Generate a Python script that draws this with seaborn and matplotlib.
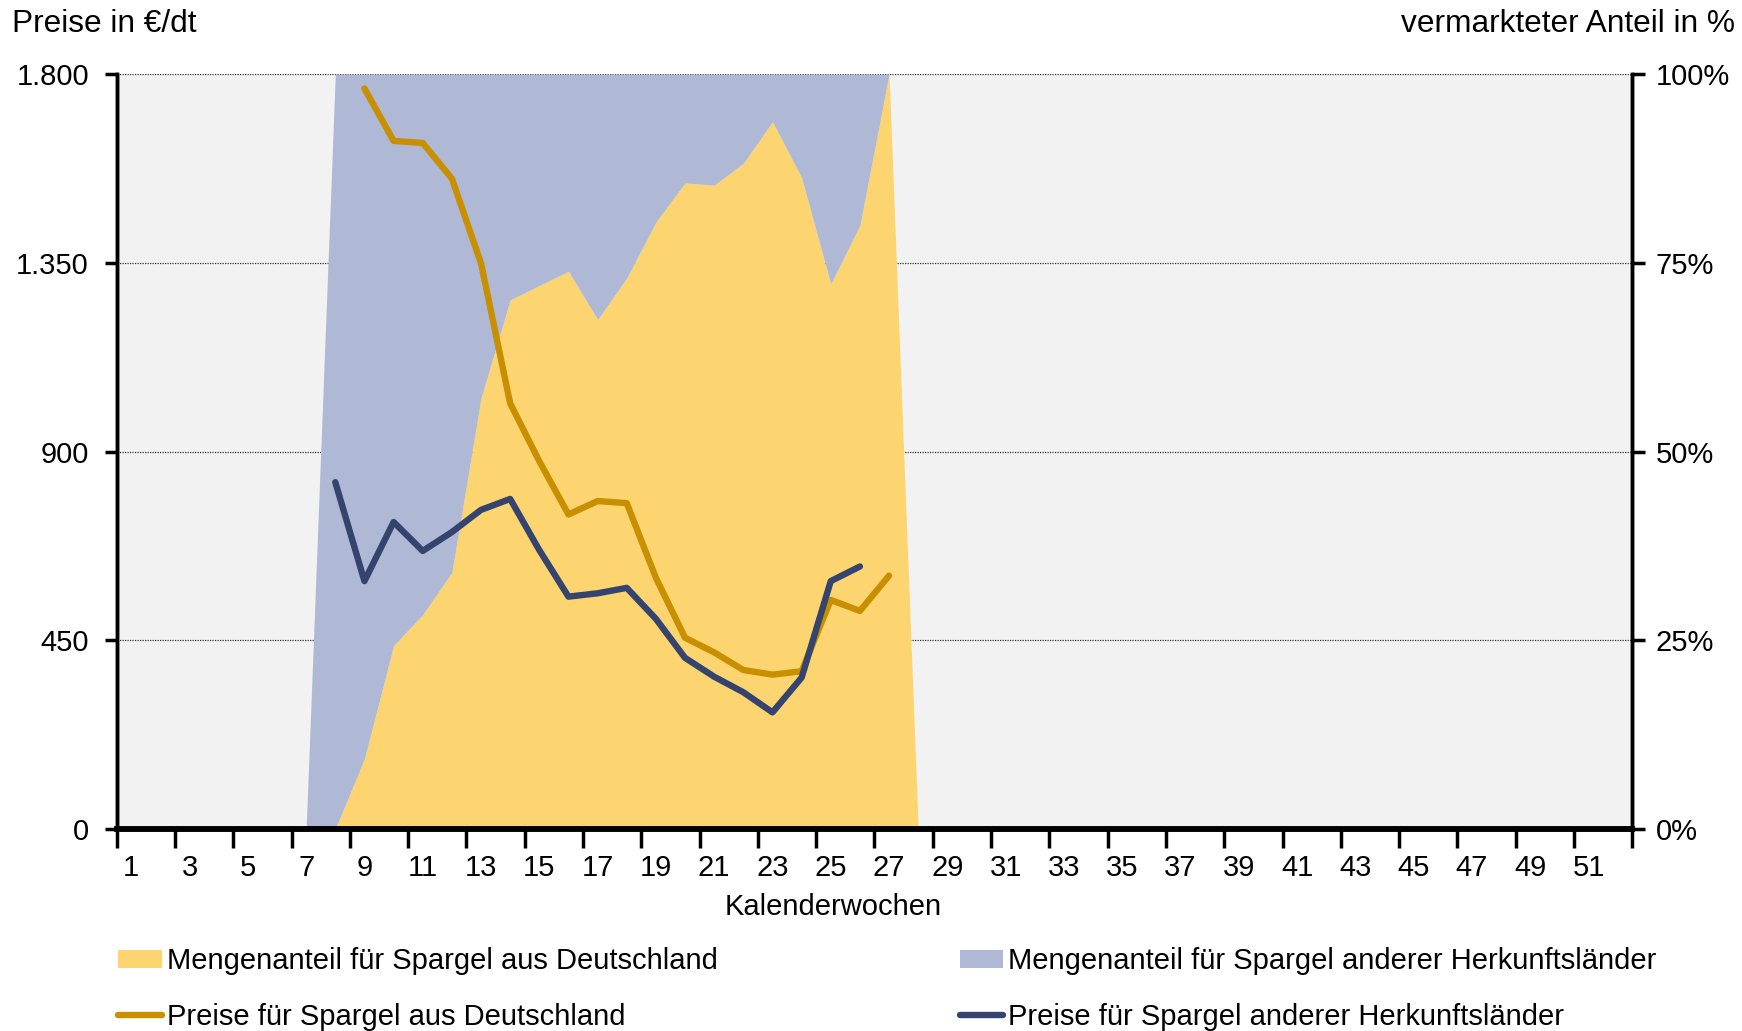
import numpy as np
import pandas as pd
import matplotlib.pyplot as plt
import seaborn as sns
from matplotlib.ticker import FuncFormatter, FixedLocator

sns.set_theme(style="white")
plt.rcParams["font.family"] = ["Liberation Sans", "DejaVu Sans"]
plt.rcParams["text.color"] = "black"
plt.rcParams["xtick.color"] = "black"
plt.rcParams["ytick.color"] = "black"
plt.rcParams["axes.labelcolor"] = "black"

# Mengenanteile (%), KW 7 bis 28
weeks_share = list(range(7, 29))
share_de = [0, 0, 9.3, 24.3, 28.4, 34.0, 57.1, 70.1, 72.0, 73.9, 67.5,
            73.0, 80.4, 85.6, 85.3, 88.2, 93.7, 86.3, 72.2, 80.0, 100, 0]
share_other = [0, 100, 90.7, 75.7, 71.6, 66.0, 42.9, 29.9, 28.0, 26.1, 32.5,
               27.0, 19.6, 14.4, 14.7, 11.8, 6.3, 13.7, 27.8, 20.0, 0, 0]

# Preise (EUR/dt)
weeks_price_de = list(range(9, 28))
price_de = [1766, 1641, 1636, 1551, 1349, 1015, 877, 750, 782, 777,
            599, 456, 421, 379, 368, 376, 546, 520, 604]
weeks_price_other = list(range(8, 27))
price_other = [827, 591, 732, 663, 708, 761, 787, 665, 554, 562,
               575, 501, 408, 363, 326, 278, 361, 591, 626]

lab_share_de = "Mengenanteil für Spargel aus Deutschland"
lab_share_other = "Mengenanteil für Spargel anderer Herkunftsländer"
lab_price_de = "Preise für Spargel aus Deutschland"
lab_price_other = "Preise für Spargel anderer Herkunftsländer"

c_yellow = "#FCD570"
c_blue = "#AFB9D6"
c_gold = "#C89000"
c_navy = "#34446E"
fs = 21

fig = plt.figure(figsize=(17.42, 10.31), dpi=100)
ax = fig.add_axes([0.067, 0.196, 0.870, 0.732])
ax2 = ax.twinx()

# areas on the share axis (behind)
ax2.patch.set_visible(True)
ax2.set_facecolor("#F2F2F2")
polys = ax2.stackplot(weeks_share, share_de, share_other, colors=[c_yellow, c_blue],
                      labels=[lab_share_de, lab_share_other], zorder=2)
for p in polys:
    p.set_linewidth(0)
ax2.set_ylim(0, 100)
ax2.set_yticks([0, 25, 50, 75, 100])
ax2.yaxis.set_major_formatter(FuncFormatter(lambda v, p: f"{v:.0f}%"))
for y in [25, 50, 75, 100]:
    ax2.axhline(y, color="#333333", lw=0.9, ls=(0, (1, 1)), zorder=1)

# price lines on top
ax.set_zorder(ax2.get_zorder() + 1)
ax.patch.set_visible(False)
df_de = pd.DataFrame({"week": weeks_price_de, "price": price_de})
df_ot = pd.DataFrame({"week": weeks_price_other, "price": price_other})
sns.lineplot(data=df_de, x="week", y="price", ax=ax, color=c_gold, lw=4.6,
             label=lab_price_de, solid_capstyle="round", solid_joinstyle="round")
sns.lineplot(data=df_ot, x="week", y="price", ax=ax, color=c_navy, lw=4.6,
             label=lab_price_other, solid_capstyle="round", solid_joinstyle="round")
ax.set_ylim(0, 1800)
ax.set_yticks([0, 450, 900, 1350, 1800])
ax.yaxis.set_major_formatter(FuncFormatter(lambda v, p: f"{v:,.0f}".replace(",", ".")))
ax.set_xlim(0.5, 52.5)
ax.xaxis.set_major_locator(FixedLocator(list(range(1, 52, 2))))
ax.xaxis.set_minor_locator(FixedLocator(list(np.arange(0.5, 53, 2))))
ax.set_ylabel("")
ax.set_xlabel("Kalenderwochen", fontsize=fs)
ax.xaxis.set_label_coords(0.473, -0.085)

ax.tick_params(axis="x", which="major", length=0, labelsize=fs, pad=18)
ax.tick_params(axis="x", which="minor", length=14, width=2.5, color="black",
               direction="out", bottom=True)
ax.tick_params(axis="y", length=9, width=2.5, color="black", direction="out",
               labelsize=fs, pad=11, left=True)
ax2.tick_params(axis="y", length=9, width=2.5, color="black", direction="out",
                labelsize=fs, pad=8, right=True)

for a in (ax, ax2):
    a.spines["top"].set_visible(False)
    a.spines["left"].set_color("black")
    a.spines["right"].set_color("black")
    a.spines["bottom"].set_color("black")
    a.spines["left"].set_linewidth(2.5)
    a.spines["right"].set_linewidth(2.5)
    a.spines["bottom"].set_linewidth(4)

ax.get_legend().remove()

fig.text(0.007, 0.977, "Preise in €/dt", fontsize=22.8, ha="left", va="center")
fig.text(0.996, 0.977, "vermarkteter Anteil in %", fontsize=22.8, ha="right", va="center")

h1, l1 = ax2.get_legend_handles_labels()
h2, l2 = ax.get_legend_handles_labels()
handles = [h1[0], h2[0], h1[1], h2[1]]
labels = [l1[0], l2[0], l1[1], l2[1]]
fig.legend(handles, labels, ncol=2, loc="upper left", bbox_to_anchor=(0.068, 0.081),
           frameon=False, fontsize=fs, handlelength=1.5, handleheight=0.6,
           handletextpad=0.15, columnspacing=8.3, labelspacing=0.95,
           borderpad=0, borderaxespad=0)

fig.savefig("out.png", dpi=100)
